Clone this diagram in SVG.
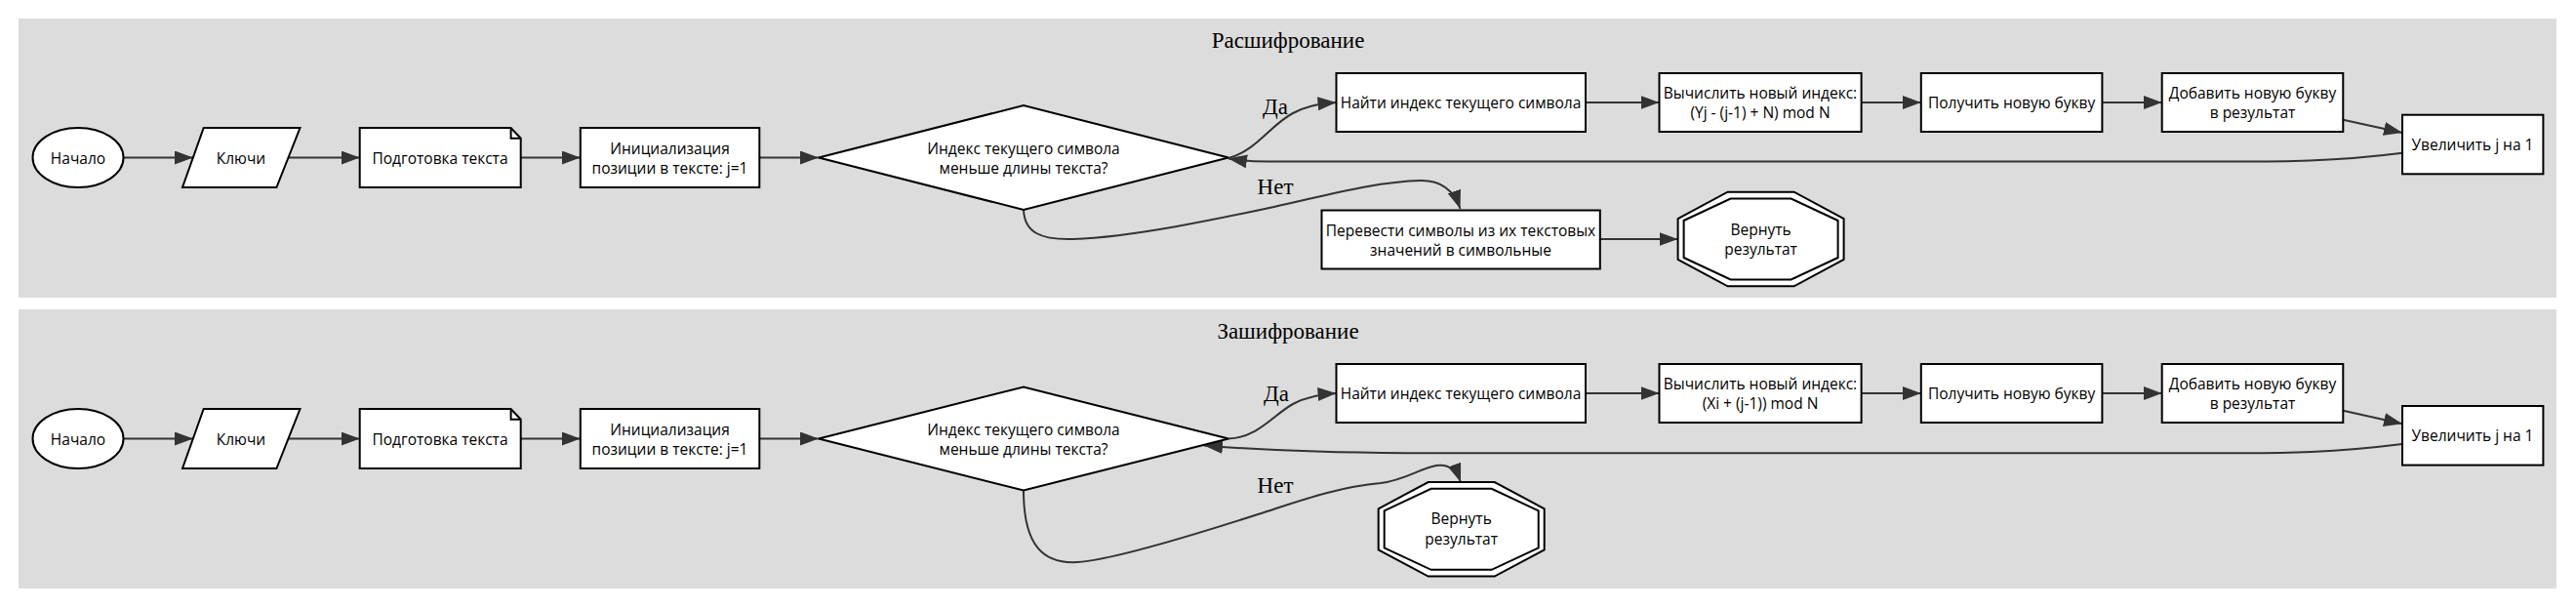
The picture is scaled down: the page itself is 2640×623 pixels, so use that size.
<svg xmlns="http://www.w3.org/2000/svg" xmlns:xlink="http://www.w3.org/1999/xlink" width="2640" height="623" viewBox="0 0 2640 623">
<style>
.panel{fill:#dcdcdc;stroke:none}
.title{font-family:"Liberation Serif","Times New Roman",serif;font-size:23px;fill:#000;text-anchor:middle}
.lbl{font-family:"Liberation Serif","Times New Roman",serif;font-size:23px;fill:#000;text-anchor:middle}
.node{fill:#fff;stroke:#000;stroke-width:2}
.nofill{fill:none;stroke:#000;stroke-width:2}
.t{font-family:"Open Sans","Noto Sans","DejaVu Sans",sans-serif;font-size:15.5px;fill:#000;text-anchor:middle}
.e{fill:none;stroke:#333;stroke-width:2;marker-end:url(#ah)}
</style>
<defs>
<marker id="ah" markerUnits="userSpaceOnUse" markerWidth="19" markerHeight="14" viewBox="0 0 19 14" refX="19" refY="7" orient="auto">
<path d="M0,0 L19,7 L0,14 z" fill="#333"/>
</marker>
<g id="oct">
<polygon class="node" points="-34,-48.3 34,-48.3 85,-21 85,21 34,48.3 -34,48.3 -85,21 -85,-21"/>
<polygon class="nofill" points="-31,-41.5 31,-41.5 79,-19 79,19 31,41.5 -31,41.5 -79,19 -79,-19"/>
</g>
</defs>
<rect x="0" y="0" width="2640" height="623" fill="#fff"/>
<g id="panel-decrypt">
<rect class="panel" x="19" y="19" width="2601" height="286"/>
<text class="title" x="1320" y="48.7">Расшифрование</text>
</g>
<g id="panel-encrypt">
<rect class="panel" x="19" y="317" width="2601" height="286"/>
<text class="title" x="1320" y="346.5">Зашифрование</text>
</g>
<g id="connectors">
<path class="e" d="M126.5,161.5 L198,161.5"/>
<path class="e" d="M295.5,161.5 L368.7,161.5"/>
<path class="e" d="M533.7,161.5 L594.8,161.5"/>
<path class="e" d="M778.3,161.5 L839,161.5"/>
<path class="e" d="M1259,162 C1288,154 1302,128 1325,116 C1337,110 1348,106.5 1369.5,105"/>
<text class="lbl" x="1307" y="117">Да</text>
<path class="e" d="M1049,215 C1050,238 1066,246 1100,245 C1160,243 1250,224 1306.7,211.7 C1360,200 1410,186 1456.7,185 C1476,185 1490,195 1496.5,214"/>
<text class="lbl" x="1307" y="198.5">Нет</text>
<path class="e" d="M1625,105 L1700.5,105"/>
<path class="e" d="M1907.6,105 L1968.8,105"/>
<path class="e" d="M2154.4,105 L2215.7,105"/>
<path class="e" d="M2401.3,122.7 L2462,136"/>
<path class="e" d="M2462,156.7 C2390,166 2330,165.5 2280,165.5 L1300,165.5 C1285,165.5 1272,164.5 1259,162.5"/>
<path class="e" d="M1639.8,245 L1719.6,245"/>
<path class="e" d="M126.5,449.5 L198,449.5"/>
<path class="e" d="M295.5,449.5 L368.7,449.5"/>
<path class="e" d="M533.7,449.5 L594.8,449.5"/>
<path class="e" d="M778.3,449.5 L839,449.5"/>
<path class="e" d="M1259,449.5 C1290,448 1305,425 1325,414 C1338,407 1350,404 1369.5,403"/>
<text class="lbl" x="1308" y="411">Да</text>
<path class="e" d="M1049,503 C1049,560 1070,578 1104,576 C1140,574 1230,546 1290,526.7 C1330,514 1370,499 1415,495 C1440,492 1455,480 1472,477 C1485,475 1493,483 1497,494"/>
<text class="lbl" x="1307" y="504.5">Нет</text>
<path class="e" d="M1625,403 L1700.5,403"/>
<path class="e" d="M1907.6,403 L1968.8,403"/>
<path class="e" d="M2154.4,403 L2215.7,403"/>
<path class="e" d="M2401.3,420.7 L2462,434.3"/>
<path class="e" d="M2462,455 C2390,464 2340,464.3 2300,464.3 L1440,464.3 C1350,463.5 1290,461 1234,456.5"/>
</g>
<g id="d-start"><ellipse class="node" cx="80" cy="161.5" rx="46.5" ry="30.5"/><text class="t" x="80" y="167.5">Начало</text></g>
<g id="d-keys"><polygon class="node" points="208.7,131 307.5,131 283.4,192 187,192"/><text class="t" x="247" y="167.5">Ключи</text></g>
<g id="d-prep"><polygon class="node" points="368.7,131 523.6,131 533.7,141.7 533.7,192 368.7,192"/><polyline class="nofill" points="523.6,131 523.6,141.7 533.7,141.7"/><text class="t" x="451" y="167.5">Подготовка текста</text></g>
<g id="d-init"><rect class="node" x="594.8" y="131" width="183.5" height="61"/><text class="t" x="686.5" y="157.5">Инициализация</text><text class="t" x="686.5" y="177.5">позиции в тексте: j=1</text></g>
<g id="d-cond"><polygon class="node" points="839,161.5 1049,108 1259,161.5 1049,215"/><text class="t" x="1049" y="157.5">Индекс текущего символа</text><text class="t" x="1049" y="177.5">меньше длины текста?</text></g>
<g id="d-find"><rect class="node" x="1369.5" y="75" width="255.5" height="60"/><text class="t" x="1497" y="111">Найти индекс текущего символа</text></g>
<g id="d-calc"><rect class="node" x="1700.5" y="75" width="207.1" height="60"/><text class="t" x="1804" y="101">Вычислить новый индекс:</text><text class="t" x="1804" y="121">(Yj - (j-1) + N) mod N</text></g>
<g id="d-get"><rect class="node" x="1968.8" y="75" width="185.6" height="60"/><text class="t" x="2061.6" y="111">Получить новую букву</text></g>
<g id="d-add"><rect class="node" x="2215.7" y="75" width="185.6" height="60"/><text class="t" x="2308.5" y="101">Добавить новую букву</text><text class="t" x="2308.5" y="121">в результат</text></g>
<g id="d-inc"><rect class="node" x="2462" y="117.7" width="144.4" height="60.6"/><text class="t" x="2534" y="154">Увеличить j на 1</text></g>
<g id="d-conv"><rect class="node" x="1354.5" y="215.5" width="285.3" height="60"/><text class="t" x="1497" y="241.5">Перевести символы из их текстовых</text><text class="t" x="1497" y="261.5">значений в символьные</text></g>
<g id="d-ret"><use xlink:href="#oct" href="#oct" transform="translate(1804.6,245)"/><text class="t" x="1804.6" y="241">Вернуть</text><text class="t" x="1804.6" y="261">результат</text></g>
<g id="e-start"><ellipse class="node" cx="80" cy="449.5" rx="46.5" ry="30.5"/><text class="t" x="80" y="455.5">Начало</text></g>
<g id="e-keys"><polygon class="node" points="208.7,419 307.5,419 283.4,480 187,480"/><text class="t" x="247" y="455.5">Ключи</text></g>
<g id="e-prep"><polygon class="node" points="368.7,419 523.6,419 533.7,429.7 533.7,480 368.7,480"/><polyline class="nofill" points="523.6,419 523.6,429.7 533.7,429.7"/><text class="t" x="451" y="455.5">Подготовка текста</text></g>
<g id="e-init"><rect class="node" x="594.8" y="419" width="183.5" height="61"/><text class="t" x="686.5" y="445.5">Инициализация</text><text class="t" x="686.5" y="465.5">позиции в тексте: j=1</text></g>
<g id="e-cond"><polygon class="node" points="839,449.5 1049,396.5 1259,449.5 1049,502.5"/><text class="t" x="1049" y="445.5">Индекс текущего символа</text><text class="t" x="1049" y="465.5">меньше длины текста?</text></g>
<g id="e-find"><rect class="node" x="1369.5" y="373" width="255.5" height="60"/><text class="t" x="1497" y="409">Найти индекс текущего символа</text></g>
<g id="e-calc"><rect class="node" x="1700.5" y="373" width="207.1" height="60"/><text class="t" x="1804" y="399">Вычислить новый индекс:</text><text class="t" x="1804" y="419">(Xi + (j-1)) mod N</text></g>
<g id="e-get"><rect class="node" x="1968.8" y="373" width="185.6" height="60"/><text class="t" x="2061.6" y="409">Получить новую букву</text></g>
<g id="e-add"><rect class="node" x="2215.7" y="373" width="185.6" height="60"/><text class="t" x="2308.5" y="399">Добавить новую букву</text><text class="t" x="2308.5" y="419">в результат</text></g>
<g id="e-inc"><rect class="node" x="2462" y="416" width="144.4" height="60.6"/><text class="t" x="2534" y="452">Увеличить j на 1</text></g>
<g id="e-ret"><use xlink:href="#oct" href="#oct" transform="translate(1497.7,542.3)"/><text class="t" x="1497.7" y="537">Вернуть</text><text class="t" x="1497.7" y="557.5">результат</text></g>
</svg>
